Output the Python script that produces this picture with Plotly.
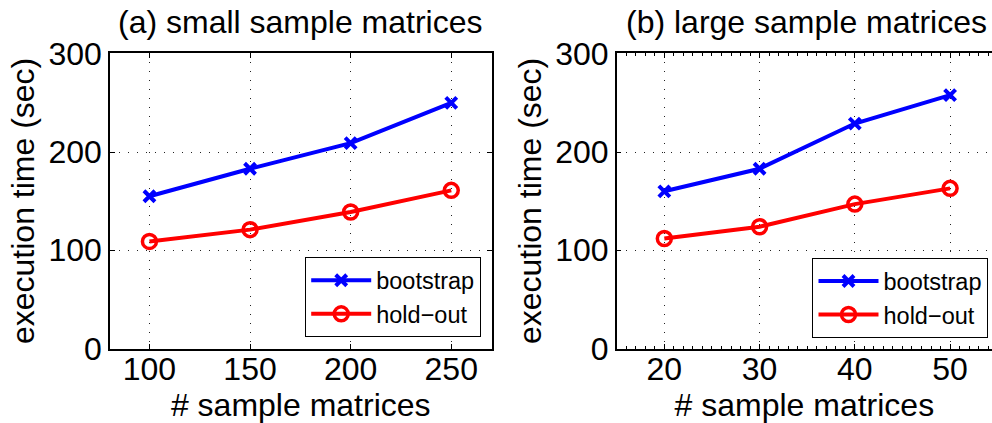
import plotly.graph_objects as go

# Execution times (sec) for the two experiments
small_n = [100, 150, 200, 250]
small_bootstrap = [155, 183, 209, 250]
small_holdout = [109, 121, 139, 161]

large_n = [20, 30, 40, 50]
large_bootstrap = [160, 183, 229, 258]
large_holdout = [112, 124, 147, 163]

y_ticks = [0, 100, 200, 300]
small_ticks = [100, 150, 200, 250]
large_ticks = [20, 30, 40, 50]

FONT = "Liberation Sans, Arial, sans-serif"
BLUE = "#0000ff"
RED = "#ff0000"

fig = go.Figure()


def add_pair(x, boot, hold, xa, ya, legend):
    fig.add_trace(go.Scatter(
        x=x, y=boot, name="bootstrap", mode="lines+markers",
        line=dict(color=BLUE, width=4),
        marker=dict(symbol="x-thin-open", size=11, color=BLUE,
                    line=dict(color=BLUE, width=4)),
        xaxis=xa, yaxis=ya, legend=legend))
    fig.add_trace(go.Scatter(
        x=x, y=hold, name="hold−out", mode="lines+markers",
        line=dict(color=RED, width=4),
        marker=dict(symbol="circle-open", size=14, color=RED,
                    line=dict(color=RED, width=3.5)),
        xaxis=xa, yaxis=ya, legend=legend))


add_pair(small_n, small_bootstrap, small_holdout, "x", "y", "legend")
add_pair(large_n, large_bootstrap, large_holdout, "x2", "y2", "legend2")

axis_common = dict(
    showline=True, linecolor="black", linewidth=1.5,
    ticks="inside", ticklen=5, tickcolor="black", tickwidth=1,
    showgrid=True, gridcolor="#222222", gridwidth=1, griddash="1px,8px",
    zeroline=False, automargin=False,
    tickfont=dict(family=FONT, size=32, color="black"),
    title_font=dict(family=FONT, size=32, color="black"),
)

y_top = 1 - 53.3 / 423
y_bot = 1 - 348.5 / 423

legend_style = dict(
    xanchor="right", yanchor="bottom",
    bgcolor="white", bordercolor="black", borderwidth=1.2,
    font=dict(family=FONT, size=23.5, color="black"),
    tracegroupgap=0, itemwidth=60,
)

fig.update_layout(
    width=992, height=423,
    margin=dict(l=0, r=0, t=0, b=0, autoexpand=False),
    paper_bgcolor="white", plot_bgcolor="white",
    font=dict(family=FONT, color="black"),
    xaxis=dict(axis_common, domain=[110 / 992, 491.5 / 992], range=[80.4, 270],
               tickvals=small_ticks, mirror="allticks", anchor="y",
               ticklabelstandoff=-9,
               title=dict(text="# sample matrices", standoff=0)),
    yaxis=dict(axis_common, domain=[y_bot, y_top], range=[0, 300.5],
               tickvals=y_ticks, mirror="allticks", anchor="x",
               title=dict(text="execution time (sec)", standoff=4)),
    xaxis2=dict(axis_common, domain=[616.7 / 992, 1.0], range=[15, 54.4],
                tickvals=large_ticks, mirror="allticks", anchor="y2",
                ticklabelstandoff=-9,
                minor=dict(dtick=1, ticks="inside", ticklen=3, tickcolor="black",
                           showgrid=False),
                title=dict(text="# sample matrices", standoff=0)),
    yaxis2=dict(axis_common, domain=[y_bot, y_top], range=[0, 300.5],
                tickvals=y_ticks, mirror=False, anchor="x2",
                title=dict(text="execution time (sec)", standoff=4)),
    legend=dict(legend_style, x=481 / 992, y=1 - 337.3 / 423),
    legend2=dict(legend_style, x=988.3 / 992, y=1 - 338 / 423),
    annotations=[
        dict(text="(a) small sample matrices", x=(110 + 491.5) / 2 / 992, y=1 - 22 / 423,
             xref="paper", yref="paper", showarrow=False, xanchor="center", yanchor="middle",
             font=dict(family=FONT, size=32, color="black")),
        dict(text="(b) large sample matrices", x=806 / 992, y=1 - 22 / 423,
             xref="paper", yref="paper", showarrow=False, xanchor="center", yanchor="middle",
             font=dict(family=FONT, size=32, color="black")),
    ],
)

fig.write_html("out.html")
